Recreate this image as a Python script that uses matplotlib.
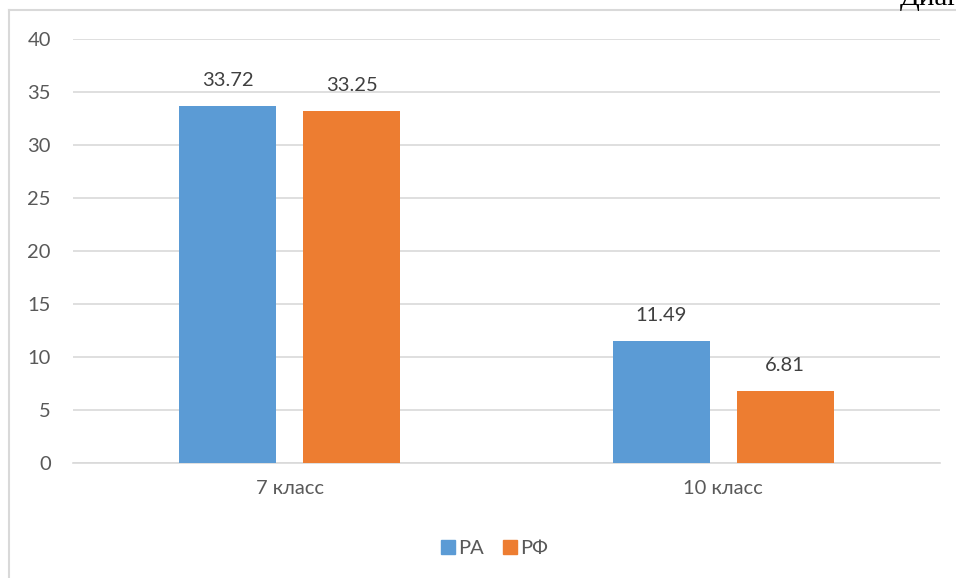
import numpy as np
import matplotlib
matplotlib.use("Agg")
import matplotlib.pyplot as plt
from matplotlib.lines import Line2D

categories = ["7 класс", "10 класс"]
series_names = ["РА", "РФ"]
ra_values = [33.72, 11.49]
rf_values = [33.25, 6.81]
y_ticks = [0, 5, 10, 15, 20, 25, 30, 35, 40]

plt.rcParams.update({"font.family": ["Lato", "DejaVu Sans"], "font.size": 14.5})
TXT = "#595959"
COLORS = ["#5B9BD5", "#ED7D31"]

fig = plt.figure(figsize=(9.56, 5.78), dpi=100)
ax = fig.add_axes([73 / 956, 1 - 463 / 578, 867 / 956, 424 / 578])

x = np.arange(len(categories))
w = 0.224
gap = 0.062
off = (w + gap) / 2
for i, (vals, name) in enumerate(zip([ra_values, rf_values], series_names)):
    pos = x + (-off if i == 0 else off)
    bars = ax.bar(pos, vals, w, color=COLORS[i], label=name, zorder=3)
    for b, v in zip(bars, vals):
        ax.text(b.get_x() + b.get_width() / 2, v + 1.6, f"{v:.2f}",
                ha="center", va="bottom", color="#404040", fontsize=14.5)

ax.set_xlim(-0.5, 1.5)
ax.set_ylim(0, 40)
ax.set_yticks(y_ticks)
ax.set_xticks(x)
ax.set_xticklabels(categories)
ax.grid(axis="y", color="#d9d9d9", lw=1.2, zorder=0)
for s in ["top", "right", "left"]:
    ax.spines[s].set_visible(False)
ax.spines["bottom"].set_color("#d9d9d9")
ax.spines["bottom"].set_linewidth(1.2)
ax.tick_params(axis="both", length=0, colors=TXT, labelsize=14.5)
ax.tick_params(axis="y", pad=16)
ax.tick_params(axis="x", pad=12)

handles = [Line2D([], [], marker="s", ls="", markersize=10, color=c) for c in COLORS]
fig.legend(handles, series_names, loc="center", bbox_to_anchor=(492 / 956, 1 - 548 / 578),
           ncol=2, frameon=False, handletextpad=-0.1, columnspacing=0.7,
           handlelength=1.2, labelcolor=TXT, fontsize=14.5)

# chart frame (left and top edges visible)
fig.add_artist(Line2D([9 / 956, 9 / 956], [0, 1 - 10 / 578], color="#d9d9d9", lw=1.5))
fig.add_artist(Line2D([9 / 956, 1], [1 - 10 / 578, 1 - 10 / 578], color="#d9d9d9", lw=1.5))

# title of the document page, cut by the chart's edge
fig.text(900 / 956, 1 - 5 / 578, "Диаграмма", family="Liberation Serif",
         fontsize=21, color="black", va="baseline", ha="left")

fig.savefig("out.png", dpi=100)
